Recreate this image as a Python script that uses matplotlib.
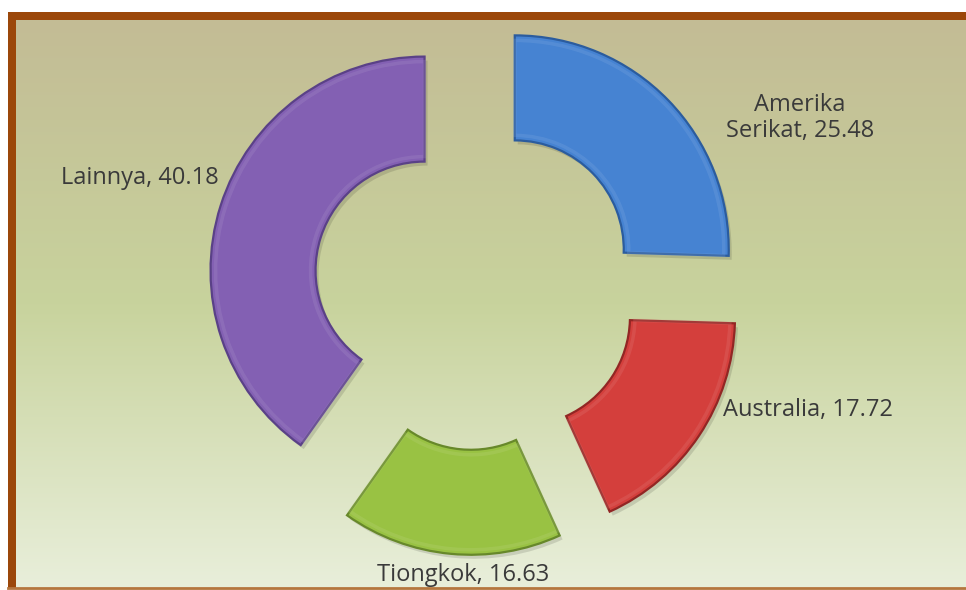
import numpy as np
import matplotlib.pyplot as plt
import matplotlib.colors as mcolors

# data
labels = ['Amerika\nSerikat', 'Australia', 'Tiongkok', 'Lainnya']
values = [25.48, 17.72, 16.63, 40.18]

face_colors = ['#4683D2', '#D43F3C', '#99C243', '#8360B3']
edge_colors = ['#2B5C9E', '#922624', '#67882A', '#5A4187']

# label anchor points in pixel space (y measured from top)
label_pos = [(800, 118), (808, 410), (463, 575), (140, 178)]

W, H = 966, 590
cx, cy = 476, 303   # y from bottom
R = 214
ring = 105
gap = 54            # explode distance in pixels

fig = plt.figure(figsize=(W / 100, H / 100), dpi=100)
ax = fig.add_axes([0, 0, 1, 1])

# background gradient (tan at top -> pale green at bottom)
top = np.array(mcolors.to_rgb('#C3BC95'))
mid = np.array(mcolors.to_rgb('#C8D39D'))
bot = np.array(mcolors.to_rgb('#E9EFDB'))
t = np.linspace(0, 1, 300)[:, None]
grad = np.where(t < 0.5, top + (mid - top) * (t / 0.5), mid + (bot - mid) * ((t - 0.5) / 0.5))
grad = np.repeat(grad[:, None, :], 2, axis=1)
ax.imshow(grad, extent=(16, W, 0, H - 20), aspect='auto', zorder=0, interpolation='bicubic')

# soft shadow under wedges
ax.pie(values, startangle=90, counterclock=False, explode=[gap] * 4,
       radius=R, center=(cx + 3, cy - 4), colors=['#000000'] * 4,
       wedgeprops=dict(width=ring, alpha=0.12, linewidth=0), frame=True)

wedges, _ = ax.pie(values, startangle=90, counterclock=False, explode=[gap] * 4,
                   radius=R, center=(cx, cy), colors=face_colors,
                   wedgeprops=dict(width=ring, linewidth=1.6), frame=True)
for w, ec in zip(wedges, edge_colors):
    w.set_edgecolor(ec)
    w.set_zorder(3)

# subtle bevel highlight
hl, _ = ax.pie(values, startangle=90, counterclock=False, explode=[gap] * 4,
               radius=R - 5, center=(cx, cy), colors=['none'] * 4,
               wedgeprops=dict(width=ring - 10, linewidth=2.5), frame=True)
for w, fc in zip(hl, face_colors):
    light = np.array(mcolors.to_rgb(fc)) * 0.6 + 0.4
    w.set_edgecolor((*light, 0.2))
    w.set_zorder(4)

for lab, v, (x, y) in zip(labels, values, label_pos):
    ax.text(x, H - y, f'{lab}, {v:.2f}', ha='center', va='center',
            fontsize=17, family='Open Sans', color='#3A3A3A', linespacing=1.1, zorder=5)

# brown frame on top and left, thin line on bottom
brown = '#9B470A'
ax.fill_between([8, W], H - 20, H - 12, color=brown, zorder=6, linewidth=0)
ax.fill_between([8, 16], 2, H - 12, color=brown, zorder=6, linewidth=0)
ax.plot([8, W], [2.5, 2.5], color='#B5763E', linewidth=2, zorder=6)

ax.set_xlim(0, W)
ax.set_ylim(0, H)
ax.set_aspect('auto')
ax.axis('off')

fig.savefig('out.png', dpi=100, facecolor='white')
